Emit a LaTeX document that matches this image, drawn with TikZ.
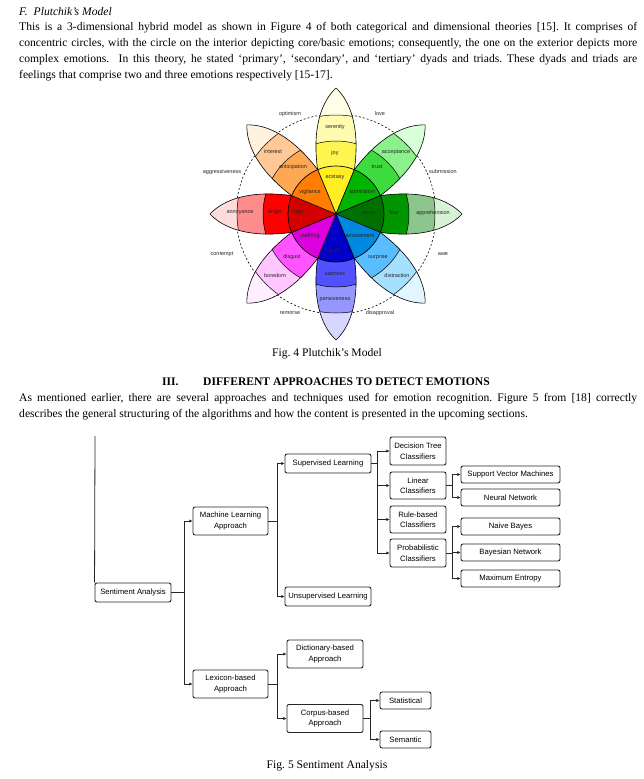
\documentclass[tikz,border=0pt]{standalone}
\usepackage{fontspec}
\setmainfont{Liberation Serif}
\setsansfont{Liberation Sans}
\usetikzlibrary{arrows.meta}
\frenchspacing
\definecolor{jA}{HTML}{FFEE22}\definecolor{jB}{HTML}{FFF550}\definecolor{jC}{HTML}{FFFCB0}\definecolor{jD}{HTML}{FFFEE6}
\definecolor{tA}{HTML}{00B400}\definecolor{tB}{HTML}{3DDB3D}\definecolor{tC}{HTML}{8CF08C}\definecolor{tD}{HTML}{D8FFD8}
\definecolor{fA}{HTML}{007000}\definecolor{fB}{HTML}{009600}\definecolor{fC}{HTML}{8CC68C}\definecolor{fD}{HTML}{D8F2D8}
\definecolor{sA}{HTML}{0089E0}\definecolor{sB}{HTML}{59BDFF}\definecolor{sC}{HTML}{A5E0FF}\definecolor{sD}{HTML}{E2F6FF}
\definecolor{dA}{HTML}{0000C8}\definecolor{dB}{HTML}{5151FF}\definecolor{dC}{HTML}{9696FF}\definecolor{dD}{HTML}{D6D6FF}
\definecolor{gA}{HTML}{DE00DE}\definecolor{gB}{HTML}{FF54FF}\definecolor{gC}{HTML}{FFC6FF}\definecolor{gD}{HTML}{FFEEFF}
\definecolor{aA}{HTML}{D40000}\definecolor{aB}{HTML}{FF0000}\definecolor{aC}{HTML}{FF8C8C}\definecolor{aD}{HTML}{FFDCDC}
\definecolor{vA}{HTML}{FF7D00}\definecolor{vB}{HTML}{FFA854}\definecolor{vC}{HTML}{FFC896}\definecolor{vD}{HTML}{FFF2DE}
\newcommand{\jline}[1]{\makebox[618pt][s]{#1}}
\tikzset{
  txt/.style={anchor=base west, inner sep=0pt, font=\fontsize{11.6}{16}\selectfont},
  figcap/.style={anchor=base, inner sep=0pt, font=\fontsize{11.6}{16}\selectfont},
  lab/.style={inner sep=0pt, font=\sffamily\fontsize{5.5}{6}\selectfont, text=black!85},
  petal/.style={insert path={(0,0) -- (44.35,18.37) .. controls (85,24) and (112,15) .. (126,0) .. controls (112,-15) and (85,-24) .. (44.35,-18.37) -- cycle}},
  tbox/.style={draw=black!85, rounded corners=2pt, line width=0.9pt, inner sep=0pt, align=center, font=\sffamily\fontsize{7.7}{10.5}\selectfont},
  arr/.style={-{Latex[length=3.2pt,width=3.2pt]}, line width=0.8pt, black!85},
  ln/.style={line width=0.8pt, black!85}
}
\begin{document}
\begin{tikzpicture}[x=1pt,y=-1pt]
\useasboundingbox (0,0) rectangle (643,779);
\fill[white] (0,0) rectangle (643,779);
% ---------- text top
\node[txt] (title) at (19,15) {\textit{F.\hspace{6pt}Plutchik's Model}};
\node[txt] (p1) at (19,30) {\jline{This is a 3-dimensional hybrid model as shown in Figure 4 of both categorical and dimensional theories [15]. It comprises of}};
\node[txt] (p2) at (19,46) {\jline{concentric circles, with the circle on the interior depicting core/basic emotions; consequently, the one on the exterior depicts more}};
\node[txt] (p3) at (19,62) {\jline{complex emotions.\ \ In this theory, he stated `primary', `secondary', and `tertiary' dyads and triads. These dyads and triads are}};
\node[txt] (p4) at (19,78) {feelings that comprise two and three emotions respectively [15-17].};
% ---------- wheel
\begin{scope}[shift={(336,214)}]
  \draw[dash pattern=on 2pt off 2pt, line width=0.6pt] (0,0) circle (100pt);
  \foreach \a/\ca/\cb/\cc/\cd in {90/jA/jB/jC/jD, 45/tA/tB/tC/tD, 0/fA/fB/fC/fD, -45/sA/sB/sC/sD, -90/dA/dB/dC/dD, -135/gA/gB/gC/gD, 180/aA/aB/aC/aD, 135/vA/vB/vC/vD}{
    \begin{scope}[rotate=\a]
      \begin{scope}
        \clip[petal];
        \fill[\cd] (0,0) circle (140pt);
        \fill[\cc] (0,0) circle (99pt);
        \fill[\cb] (0,0) circle (73pt);
        \fill[\ca] (0,0) circle (48pt);
        \draw[line width=0.5pt] (0,0) circle (99pt) (0,0) circle (73pt);
      \end{scope}
      \draw[line width=0.6pt] [petal];
    \end{scope}
  }
  \draw[line width=0.7pt] (0,0) circle (48pt);
\end{scope}
% wheel labels
\node[lab] (l1) at (290,114) {optimism};
\node[lab] (l2) at (380,114) {love};
\node[lab] (l3) at (335,127) {serenity};
\node[lab] (l4) at (273,152) {interest};
\node[lab] (l5) at (396,152) {acceptance};
\node[lab] (l6) at (335,153) {joy};
\node[lab] (l7) at (293,167) {anticipation};
\node[lab] (l8) at (377,167) {trust};
\node[lab] (l9) at (222,172) {aggressiveness};
\node[lab] (l10) at (443,172) {submission};
\node[lab] (l11) at (335,177) {ecstasy};
\node[lab] (l12) at (310,192) {vigilance};
\node[lab] (l13) at (362,192) {admiration};
\node[lab] (l14) at (240,213) {annoyance};
\node[lab] (l15) at (275,213) {anger};
\node[lab] (l16) at (298,213) {rage};
\node[lab] (l17) at (369,213) {terror};
\node[lab] (l18) at (394,213) {fear};
\node[lab] (l19) at (433,213) {apprehension};
\node[lab] (l20) at (310,236) {loathing};
\node[lab] (l21) at (360,236) {amazement};
\node[lab] (l22) at (334,251) {grief};
\node[lab] (l23) at (222,254) {contempt};
\node[lab] (l24) at (443,254) {awe};
\node[lab] (l25) at (292,257) {disgust};
\node[lab] (l26) at (378,257) {surprise};
\node[lab] (l27) at (275,276) {boredom};
\node[lab] (l28) at (397,276) {distraction};
\node[lab] (l29) at (335,274) {sadness};
\node[lab] (l30) at (335,299) {pensiveness};
\node[lab] (l31) at (290,313) {remorse};
\node[lab] (l32) at (380,313) {disapproval};
\node[figcap] (c4) at (327,356) {Fig. 4 Plutchik's Model};
% ---------- section
\node[txt] (h1) at (162,385) {\textbf{III.}};
\node[txt] (h2) at (203,385) {\textbf{DIFFERENT APPROACHES TO DETECT EMOTIONS}};
\node[txt] (q1) at (19,401) {\jline{As mentioned earlier, there are several approaches and techniques used for emotion recognition. Figure 5 from [18] correctly}};
\node[txt] (q2) at (19,417) {describes the general structuring of the algorithms and how the content is presented in the upcoming sections.};
% ---------- tree
\node[tbox, minimum width=76pt, minimum height=19pt] (sa) at (133,592.5) {Sentiment Analysis};
\node[tbox, minimum width=75pt, minimum height=28pt] (ml) at (230.5,521) {Machine Learning\\Approach};
\node[tbox, minimum width=75pt, minimum height=28pt] (lex) at (230.5,684) {Lexicon-based\\Approach};
\node[tbox, minimum width=86pt, minimum height=19pt] (sup) at (328,463.5) {Supervised Learning};
\node[tbox, minimum width=86pt, minimum height=19pt] (uns) at (328,596.5) {Unsupervised Learning};
\node[tbox, minimum width=76pt, minimum height=28pt] (dic) at (325,654) {Dictionary-based\\Approach};
\node[tbox, minimum width=76pt, minimum height=28pt] (cor) at (325,718.5) {Corpus-based\\Approach};
\node[tbox, minimum width=51pt, minimum height=17pt] (sta) at (405.5,700.5) {Statistical};
\node[tbox, minimum width=51pt, minimum height=17pt] (sem) at (405.5,739.5) {Semantic};
\node[tbox, minimum width=56pt, minimum height=28pt] (dt) at (418,451) {Decision Tree\\Classifiers};
\node[tbox, minimum width=56pt, minimum height=27pt] (lin) at (418,485.5) {Linear\\Classifiers};
\node[tbox, minimum width=56pt, minimum height=27pt] (rul) at (418,519.5) {Rule-based\\Classifiers};
\node[tbox, minimum width=56pt, minimum height=28pt] (pro) at (418,553) {Probabilistic\\Classifiers};
\node[tbox, minimum width=99pt, minimum height=17pt] (svm) at (510.5,474.5) {Support Vector Machines};
\node[tbox, minimum width=99pt, minimum height=17pt] (nn) at (510.5,497.5) {Neural Network};
\node[tbox, minimum width=99pt, minimum height=17pt] (nb) at (510.5,526.5) {Naive Bayes};
\node[tbox, minimum width=99pt, minimum height=17pt] (bn) at (510.5,552.5) {Bayesian Network};
\node[tbox, minimum width=99pt, minimum height=17pt] (me) at (510.5,578.5) {Maximum Entropy};
% connectors
\coordinate (vtop) at (95,436);
\draw[ln] (vtop) -- (sa.north west);
\coordinate (j1) at (184,592.5);
\draw[ln] (sa.east) -- (j1);
\draw[arr] (j1) |- (ml.west);
\draw[arr] (j1) |- (lex.west);
\coordinate (j2) at (277,521);
\draw[ln] (ml.east) -- (j2);
\draw[arr] (j2) |- (sup.west);
\draw[arr] (j2) |- (uns.west);
\coordinate (j3) at (377,463.5);
\draw[ln] (sup.east) -- (j3);
\draw[arr] (j3) |- (dt.west);
\draw[arr] (j3) |- (lin.west);
\draw[arr] (j3) |- (rul.west);
\draw[arr] (j3) |- (pro.west);
\coordinate (j4) at (452,485.5);
\draw[ln] (lin.east) -- (j4);
\draw[arr] (j4) |- (svm.west);
\draw[arr] (j4) |- (nn.west);
\coordinate (j5) at (452,553);
\draw[ln] (pro.east) -- (j5);
\draw[arr] (j5) |- (nb.west);
\draw[arr] (j5) |- (bn.west);
\draw[arr] (j5) |- (me.west);
\coordinate (j6) at (277,684);
\draw[ln] (lex.east) -- (j6);
\draw[arr] (j6) |- (dic.west);
\draw[arr] (j6) |- (cor.west);
\coordinate (j7) at (370,718.5);
\draw[ln] (cor.east) -- (j7);
\draw[arr] (j7) |- (sta.west);
\draw[arr] (j7) |- (sem.west);
\node[figcap] (c5) at (327,768) {Fig. 5 Sentiment Analysis};
\end{tikzpicture}
\end{document}
